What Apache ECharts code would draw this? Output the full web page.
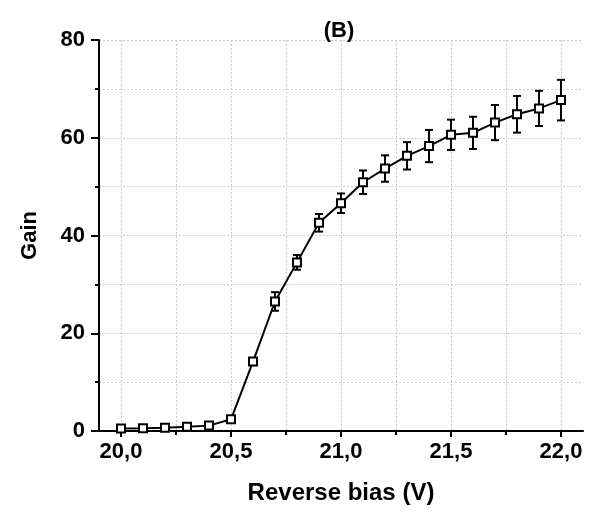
<!DOCTYPE html>
<html>
<head>
<meta charset="utf-8">
<script src="https://cdn.jsdelivr.net/npm/echarts@6/dist/echarts.min.js"></script>
<style>html,body{margin:0;padding:0;background:#fff;}#c{width:590px;height:514px;}</style>
</head>
<body>
<div id="c"></div>
<script>
var biasV = [20.0, 20.1, 20.2, 20.3, 20.4, 20.5, 20.6, 20.7, 20.8, 20.9, 21.0, 21.1, 21.2, 21.3, 21.4, 21.5, 21.6, 21.7, 21.8, 21.9, 22.0];
var gain = [0.5, 0.55, 0.65, 0.85, 1.1, 2.4, 14.2, 26.5, 34.5, 42.6, 46.6, 50.9, 53.7, 56.3, 58.3, 60.6, 61.0, 63.1, 64.8, 66.0, 67.7];
var gainErr = [0.4, 0.4, 0.4, 0.5, 0.5, 0.6, 0.5, 1.9, 1.5, 1.8, 2.0, 2.4, 2.7, 2.8, 3.3, 3.1, 3.3, 3.6, 3.75, 3.6, 4.15];
var xMajorValues = [20.0, 20.5, 21.0, 21.5, 22.0];
var xMinorValues = [20.25, 20.75, 21.25, 21.75];

var chart = echarts.init(document.getElementById('c'), null, {renderer: 'canvas'});
var font = 'Liberation Sans, Arial, sans-serif';
var lineData = biasV.map(function (x, i) { return [x, gain[i]]; });
var errData = biasV.map(function (x, i) { return [x, gain[i] - gainErr[i], gain[i] + gainErr[i]]; });
var gridLine = {show: true, lineStyle: {color: '#c8c8c8', type: [2, 2], width: 1}};

var option = {
  animation: false,
  backgroundColor: '#fff',
  title: {
    text: '(B)', left: 334, top: 15, textAlign: 'center',
    textStyle: {fontFamily: font, fontWeight: 'bold', fontSize: 22, color: '#000'}
  },
  grid: {left: 99, right: 7, top: 40, bottom: 83, containLabel: false},
  xAxis: [{
    type: 'value', min: 19.9, max: 22.1,
    name: 'Reverse bias (V)', nameLocation: 'middle', nameGap: 50,
    nameTextStyle: {fontFamily: font, fontWeight: 'bold', fontSize: 24, color: '#000'},
    axisLine: {show: true, onZero: false, lineStyle: {color: '#000', width: 2}},
    axisTick: {show: true, customValues: xMajorValues, length: 6, lineStyle: {color: '#000', width: 2}},
    axisLabel: {
      customValues: xMajorValues, margin: 10,
      fontFamily: font, fontWeight: 'bold', fontSize: 22, color: '#000',
      formatter: function (v) { return v.toFixed(1).replace('.', ','); }
    },
    splitLine: gridLine
  }, {
    type: 'value', min: 19.9, max: 22.1, position: 'bottom',
    axisLine: {show: false, onZero: false},
    axisTick: {show: true, customValues: xMinorValues, length: 4, lineStyle: {color: '#000', width: 2}},
    axisLabel: {show: false, customValues: xMinorValues},
    splitLine: gridLine
  }],
  yAxis: {
    type: 'value', min: 0, max: 80, interval: 20,
    name: 'Gain', nameLocation: 'middle', nameGap: 58, nameRotate: 90,
    nameTextStyle: {fontFamily: font, fontWeight: 'bold', fontSize: 22, color: '#000'},
    axisLine: {show: true, onZero: false, lineStyle: {color: '#000', width: 2}},
    axisTick: {show: true, length: 8, lineStyle: {color: '#000', width: 2}},
    minorTick: {show: true, splitNumber: 2, length: 4, lineStyle: {color: '#000', width: 2}},
    axisLabel: {margin: 14, fontFamily: font, fontWeight: 'bold', fontSize: 22, color: '#000'},
    splitLine: gridLine,
    minorSplitLine: gridLine
  },
  series: [
    {
      type: 'custom', z: 2,
      data: errData,
      renderItem: function (params, api) {
        var x = api.value(0);
        var lo = api.coord([x, api.value(1)]);
        var hi = api.coord([x, api.value(2)]);
        var hw = 4;
        var st = {stroke: '#000', lineWidth: 2};
        return {
          type: 'group',
          children: [
            {type: 'line', shape: {x1: lo[0], y1: lo[1], x2: hi[0], y2: hi[1]}, style: st},
            {type: 'line', shape: {x1: lo[0] - hw, y1: lo[1], x2: lo[0] + hw, y2: lo[1]}, style: st},
            {type: 'line', shape: {x1: hi[0] - hw, y1: hi[1], x2: hi[0] + hw, y2: hi[1]}, style: st}
          ]
        };
      }
    },
    {
      type: 'line', z: 3,
      data: lineData,
      symbol: 'rect', symbolSize: 8,
      lineStyle: {color: '#000', width: 2},
      itemStyle: {color: '#fff', borderColor: '#000', borderWidth: 2}
    }
  ]
};
chart.setOption(option);
</script>
</body>
</html>
